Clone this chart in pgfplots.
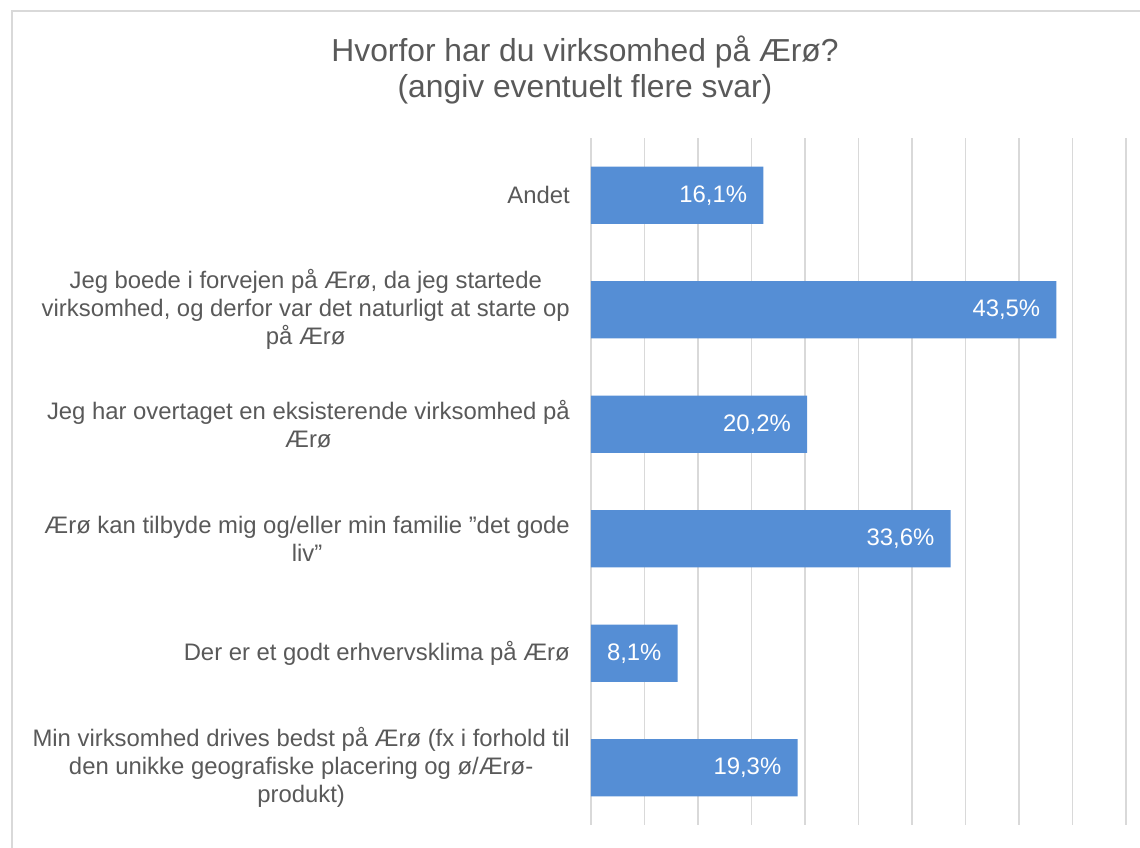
\documentclass[border=0pt]{standalone}
\usepackage{fontspec}
\setmainfont{Liberation Sans}
\usepackage{pgfplots}
\pgfplotsset{compat=1.18}
\definecolor{barc}{HTML}{558ED5}
\definecolor{gridc}{HTML}{D9D9D9}
\definecolor{txt}{HTML}{595959}
\begin{document}
\begin{tikzpicture}
\useasboundingbox (0,0) rectangle (855pt,636pt);
\draw[gridc, line width=1.1pt] (9pt,-5pt) -- (9pt,627.75pt) -- (870pt,627.75pt);
\node[anchor=base, text=txt, inner sep=0pt, font=\fontsize{23.85pt}{28pt}\selectfont] at (438.75pt,589.5pt) {Hvorfor har du virksomhed på Ærø?};
\node[anchor=base, text=txt, inner sep=0pt, font=\fontsize{23.85pt}{28pt}\selectfont] at (438.75pt,562.5pt) {(angiv eventuelt flere svar)};
\begin{axis}[
  at={(443.25pt,17.25pt)}, anchor=south west,
  scale only axis, width=401.25pt, height=515.25pt,
  xbar, bar width=0.5, bar shift=0pt,
  xmin=0, xmax=50, ymin=-0.5, ymax=5.5,
  xtick={0,5,...,50}, xticklabels={}, xmajorgrids,
  major grid style={gridc, line width=1pt},
  ytick={0,1,2,3,4,5},
  yticklabels={
    {Min virksomhed drives bedst på Ærø (fx i forhold til\\den unikke geografiske placering og ø/Ærø-\\produkt)},
    {Der er et godt erhvervsklima på Ærø},
    {Ærø kan tilbyde mig og/eller min familie ”det gode\\liv”},
    {Jeg har overtaget en eksisterende virksomhed på\\Ærø},
    {Jeg boede i forvejen på Ærø, da jeg startede\\virksomhed, og derfor var det naturligt at starte op\\på Ærø},
    {Andet}},
  yticklabel style={anchor=east, align=center, inner sep=0pt, xshift=-15.75pt, text=txt, font=\fontsize{17.9pt}{21pt}\selectfont},
  major tick length=0pt,
  axis line style={draw=none},
  nodes near coords, point meta=explicit symbolic,
  nodes near coords style={anchor=east, inner sep=0pt, xshift=-12pt, text=white, font=\fontsize{17.9pt}{21pt}\selectfont},
  clip=false,
]
\addplot[fill=barc, draw=none] coordinates {(19.3,0) [19,3\%] (8.1,1) [8,1\%] (33.6,2) [33,6\%] (20.2,3) [20,2\%] (43.5,4) [43,5\%] (16.1,5) [16,1\%]};
\end{axis}
\end{tikzpicture}
\end{document}
